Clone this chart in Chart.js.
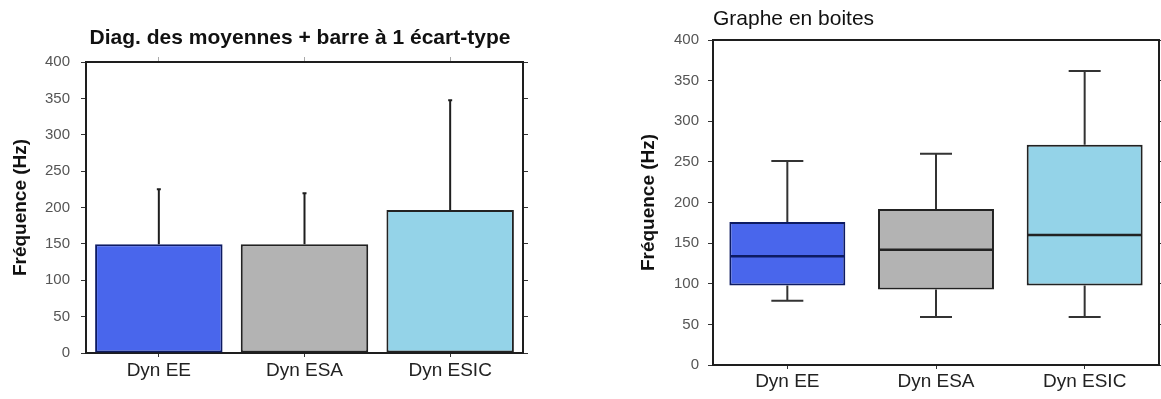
<!DOCTYPE html>
<html>
<head>
<meta charset="utf-8">
<script src="https://cdn.jsdelivr.net/npm/chart.js@4/dist/chart.umd.min.js"></script>
<style>
  html, body { margin: 0; padding: 0; background: #ffffff; }
  body { width: 1161px; height: 399px; position: relative; overflow: hidden; }
  .box { position: absolute; top: 0; height: 399px; }
  #leftBox { left: 0; width: 600px; }
  #rightBox { left: 600px; width: 561px; }
</style>
</head>
<body>
<div class="box" id="leftBox"><canvas id="barChart"></canvas></div>
<div class="box" id="rightBox"><canvas id="boxChart"></canvas></div>
<script>
// ---- Data ----
const categories = ['Dyn EE', 'Dyn ESA', 'Dyn ESIC'];
// Left panel: means and one standard deviation
const means = [149.5, 149.5, 196.5];
const stdDevs = [75.5, 70, 151];
// Right panel: box plot statistics
const boxMin = [79, 59, 59];
const boxQ1 = [98, 93, 98];
const boxMedian = [134, 142, 160];
const boxQ3 = [176, 192, 271];
const boxMax = [251, 260, 362];
// Axis ticks
const yTickValues = [0, 50, 100, 150, 200, 250, 300, 350, 400];

// ---- Styling ----
const FONT = '"Liberation Sans", Arial, sans-serif';
const fillColors = ['#4966ec', '#b3b3b3', '#94d3e8'];
const edgeColors = ['#0d1b63', '#222222', '#222222'];

const yMin = yTickValues[0], yMax = yTickValues[yTickValues.length - 1];
const yStep = yTickValues[1] - yTickValues[0];

function fixWidth(w) { return s => { s.width = w; }; }
function fixHeight(h) { return s => { s.height = h; }; }

function makeScales(cfg) {
  return {
    x: {
      type: 'category', position: 'bottom', offset: true,
      grid: { display: true, offset: false, drawOnChartArea: false, drawTicks: true, tickLength: 4, color: '#333', lineWidth: 1 },
      border: { display: true, color: '#1e1e1e', width: 2 },
      ticks: { color: '#222', padding: cfg.xPad, font: { family: FONT, size: 19 } },
      afterFit: fixHeight(cfg.xH)
    },
    x2: {
      type: 'category', position: 'top', offset: true,
      grid: { display: cfg.topTicks, offset: false, drawOnChartArea: false, drawTicks: cfg.topTicks, tickLength: 5, color: '#aaa', lineWidth: 1 },
      border: { display: true, color: '#1e1e1e', width: 2 },
      ticks: { display: false },
      afterFit: fixHeight(cfg.x2H)
    },
    y: {
      type: 'linear', position: 'left', min: yMin, max: yMax,
      grid: { display: true, drawOnChartArea: false, drawTicks: true, tickLength: 5, color: '#333', lineWidth: 1 },
      border: { display: true, color: '#1e1e1e', width: 2 },
      ticks: { stepSize: yStep, color: '#555', padding: cfg.yPad, font: { family: FONT, size: 15 } },
      title: { display: true, text: 'Fréquence (Hz)', color: '#111', font: { family: FONT, size: 19, weight: 'bold' }, padding: { top: cfg.yTitlePad, bottom: 0 } },
      afterFit: fixWidth(cfg.yW)
    },
    y2: {
      type: 'linear', position: 'right', min: yMin, max: yMax,
      grid: { display: true, drawOnChartArea: false, drawTicks: true, tickLength: 5, color: '#333', lineWidth: 1 },
      border: { display: true, color: '#1e1e1e', width: 2 },
      ticks: { display: false, stepSize: yStep },
      afterFit: fixWidth(cfg.y2W)
    }
  };
}

// Error bars (mean + 1 SD) drawn through the chart's scales
const errorBarPlugin = {
  id: 'errorBars',
  afterDatasetsDraw(chart) {
    const { ctx } = chart;
    const xs = chart.scales.x, ys = chart.scales.y;
    ctx.save();
    ctx.strokeStyle = '#1e1e1e';
    ctx.lineWidth = 2;
    means.forEach((m, i) => {
      const px = xs.getPixelForValue(i);
      const y0 = ys.getPixelForValue(m);
      const y1 = ys.getPixelForValue(m + stdDevs[i]);
      ctx.beginPath();
      ctx.moveTo(px, y0); ctx.lineTo(px, y1);
      ctx.moveTo(px - 2, y1); ctx.lineTo(px + 2, y1);
      ctx.stroke();
    });
    ctx.restore();
  }
};

// Whiskers and median lines for the box plot
const boxPlugin = {
  id: 'boxWhiskers',
  afterDatasetsDraw(chart) {
    const { ctx } = chart;
    const xs = chart.scales.x, ys = chart.scales.y;
    const meta = chart.getDatasetMeta(0);
    ctx.save();
    categories.forEach((c, i) => {
      const px = xs.getPixelForValue(i);
      const half = meta.data[i].width / 2;
      const capHalf = 16;
      ctx.strokeStyle = '#333';
      ctx.lineWidth = 2;
      ctx.beginPath();
      ctx.moveTo(px, ys.getPixelForValue(boxQ3[i])); ctx.lineTo(px, ys.getPixelForValue(boxMax[i]));
      ctx.moveTo(px - capHalf, ys.getPixelForValue(boxMax[i])); ctx.lineTo(px + capHalf, ys.getPixelForValue(boxMax[i]));
      ctx.moveTo(px, ys.getPixelForValue(boxQ1[i])); ctx.lineTo(px, ys.getPixelForValue(boxMin[i]));
      ctx.moveTo(px - capHalf, ys.getPixelForValue(boxMin[i])); ctx.lineTo(px + capHalf, ys.getPixelForValue(boxMin[i]));
      ctx.stroke();
      ctx.strokeStyle = edgeColors[i];
      ctx.lineWidth = 2.5;
      ctx.beginPath();
      const ym = ys.getPixelForValue(boxMedian[i]);
      ctx.moveTo(px - half + 1, ym); ctx.lineTo(px + half - 1, ym);
      ctx.stroke();
    });
    ctx.restore();
  }
};

// ---- Left: means with 1 SD bars ----
const leftTitleSize = 21, leftTitlePadTop = 26, leftTitlePadBottom = 2;
const leftTitleH = leftTitleSize * 1.2 + leftTitlePadTop + leftTitlePadBottom;
new Chart(document.getElementById('barChart'), {
  type: 'bar',
  data: {
    labels: categories,
    datasets: [{
      data: means,
      backgroundColor: fillColors,
      borderColor: edgeColors,
      borderWidth: 2,
      borderSkipped: false,
      categoryPercentage: 1.0,
      barPercentage: 0.875
    }]
  },
  options: {
    responsive: true, maintainAspectRatio: false, animation: false,
    layout: { padding: 0 },
    plugins: {
      legend: { display: false }, tooltip: { enabled: false },
      title: {
        display: true, text: 'Diag. des moyennes + barre à 1 écart-type',
        color: '#111', align: 'center', fullSize: true,
        font: { family: FONT, size: leftTitleSize, weight: 'bold' },
        padding: { top: leftTitlePadTop, bottom: leftTitlePadBottom }
      }
    },
    scales: makeScales({ xH: 46, x2H: 62 - leftTitleH, yW: 86, y2W: 600 - 523, xPad: 2, yPad: 11, yTitlePad: 9, topTicks: true })
  },
  plugins: [errorBarPlugin]
});

// ---- Right: box plot ----
const rightTitleSize = 21, rightTitlePadTop = 7, rightTitlePadBottom = 0;
const rightTitleH = rightTitleSize * 1.2 + rightTitlePadTop + rightTitlePadBottom;
new Chart(document.getElementById('boxChart'), {
  type: 'bar',
  data: {
    labels: categories,
    datasets: [{
      data: categories.map((c, i) => [boxQ1[i], boxQ3[i]]),
      backgroundColor: fillColors,
      borderColor: edgeColors,
      borderWidth: 2,
      borderSkipped: false,
      categoryPercentage: 1.0,
      barPercentage: 0.78
    }]
  },
  options: {
    responsive: true, maintainAspectRatio: false, animation: false,
    layout: { padding: 0 },
    plugins: {
      legend: { display: false }, tooltip: { enabled: false },
      title: {
        display: true, text: 'Graphe en boites',
        color: '#111', align: 'start', fullSize: false,
        font: { family: FONT, size: rightTitleSize, weight: 'normal' },
        padding: { top: rightTitlePadTop, bottom: rightTitlePadBottom }
      }
    },
    scales: makeScales({ xH: 34, x2H: 40 - rightTitleH, yW: 113, y2W: 2, xPad: 1, yPad: 9, yTitlePad: 37, topTicks: false })
  },
  plugins: [boxPlugin]
});
</script>
</body>
</html>
